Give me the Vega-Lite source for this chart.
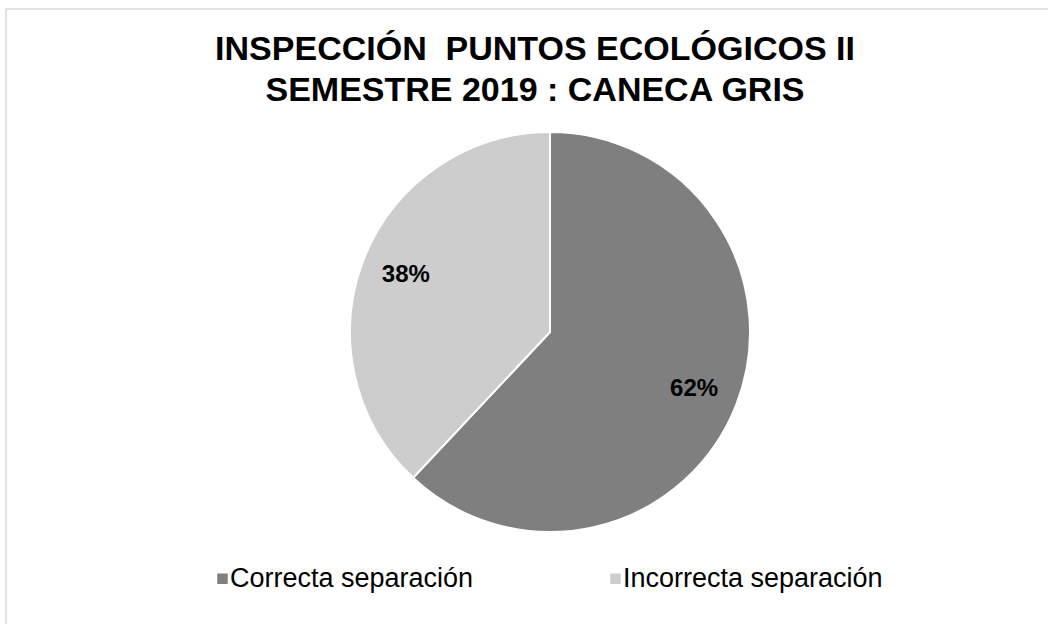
{
  "$schema": "https://vega.github.io/schema/vega-lite/v6.json",
  "width": 1088,
  "height": 646,
  "autosize": {"type": "none"},
  "padding": {"left": 6, "top": 9, "right": -46, "bottom": -31},
  "background": "white",
  "view": {"stroke": "#d9d9d9", "strokeWidth": 1.5},
  "config": {
    "view": {"stroke": "#d9d9d9", "strokeWidth": 1.5},
    "font": "Liberation Sans"
  },
  "title": {
    "text": ["INSPECCIÓN \u00a0PUNTOS ECOLÓGICOS II", "SEMESTRE 2019 : CANECA GRIS"],
    "fontSize": 34,
    "fontWeight": "bold",
    "font": "Liberation Sans",
    "color": "#000000",
    "lineHeight": 41,
    "anchor": "middle",
    "offset": -99,
    "dx": -15
  },
  "data": {
    "values": [
      {"categoria": "Correcta separación", "valor": 62, "etiqueta": "62%"},
      {"categoria": "Incorrecta separación", "valor": 38, "etiqueta": "38%"}
    ]
  },
  "encoding": {
    "theta": {"field": "valor", "type": "quantitative", "stack": true},
    "order": {"field": "valor", "type": "quantitative", "sort": "descending"}
  },
  "layer": [
    {
      "mark": {"type": "arc", "outerRadius": 200, "stroke": "#ffffff", "strokeWidth": 2},
      "encoding": {
        "color": {
          "field": "categoria",
          "type": "nominal",
          "scale": {"domain": ["Correcta separación", "Incorrecta separación"], "range": ["#7f7f7f", "#cdcdcd"]},
          "legend": {
            "title": null,
            "orient": "none",
            "legendX": 203,
            "legendY": 556,
            "direction": "horizontal",
            "padding": 0,
            "symbolType": "square",
            "symbolSize": 110,
            "symbolStrokeWidth": 0,
            "labelFontSize": 27,
            "labelFont": "Liberation Sans",
            "labelColor": "#000000",
            "labelOffset": -6,
            "labelLimit": 400,
            "columnPadding": 128
          }
        }
      }
    },
    {
      "mark": {"type": "text", "radius": 155, "fontSize": 24, "fontWeight": "bold", "font": "Liberation Sans", "color": "#000000"},
      "encoding": {
        "detail": {"field": "categoria", "type": "nominal"},
        "text": {"field": "etiqueta", "type": "nominal"}
      }
    }
  ]
}
